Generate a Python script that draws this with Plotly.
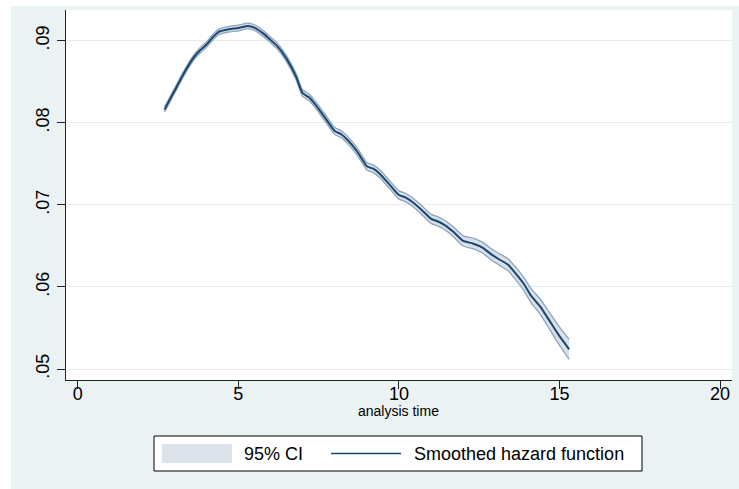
import plotly.graph_objects as go

# ---- data ----
analysis_time = [2.7, 3.0, 3.3, 3.6, 3.8, 4.0, 4.2, 4.4, 4.7, 5.0, 5.3, 5.5, 5.8, 6.0, 6.2, 6.5,
                 6.8, 7.0, 7.2, 7.4, 7.7, 8.0, 8.2, 8.4, 8.7, 9.0, 9.2, 9.4, 9.7, 10.0, 10.2,
                 10.4, 10.7, 11.0, 11.2, 11.4, 11.7, 12.0, 12.3, 12.6, 12.9, 13.1, 13.4, 13.6,
                 13.9, 14.1, 14.4, 14.7, 15.0, 15.3]
hazard = [0.0816, 0.0838, 0.0860, 0.0879, 0.0888, 0.0895, 0.0904, 0.0911, 0.0914, 0.09155,
          0.0918, 0.0916, 0.0908, 0.0901, 0.0894, 0.0878, 0.0856, 0.0836, 0.0831, 0.0822,
          0.0806, 0.0790, 0.0786, 0.0779, 0.0765, 0.0747, 0.0744, 0.0738, 0.0725, 0.0712,
          0.0709, 0.0704, 0.0694, 0.0683, 0.0680, 0.0676, 0.0667, 0.0656, 0.0653, 0.0648,
          0.0639, 0.0634, 0.0627, 0.0618, 0.0603, 0.0590, 0.0576, 0.0558, 0.0540, 0.0524]
ci_halfwidth = [0.0003, 0.0003, 0.00031, 0.00032, 0.00033, 0.00033, 0.00034, 0.00034, 0.00034,
                0.00034, 0.00034, 0.00034, 0.00035, 0.00035, 0.00036, 0.00037, 0.00038, 0.00039,
                0.0004, 0.00041, 0.00042, 0.00043, 0.00043, 0.00044, 0.00045, 0.00046, 0.00047,
                0.00048, 0.00049, 0.0005, 0.00051, 0.00052, 0.00054, 0.00056, 0.00057, 0.00058,
                0.0006, 0.00062, 0.00064, 0.00066, 0.00068, 0.0007, 0.00073, 0.00076, 0.0008,
                0.00085, 0.00093, 0.00101, 0.00111, 0.00122]
ci_lower = [h - w for h, w in zip(hazard, ci_halfwidth)]
ci_upper = [h + w for h, w in zip(hazard, ci_halfwidth)]

y_tick_values = [0.05, 0.06, 0.07, 0.08, 0.09]
y_tick_labels = [".05", ".06", ".07", ".08", ".09"]
x_tick_values = [0, 5, 10, 15, 20]
x_tick_labels = ["0", "5", "10", "15", "20"]
legend_labels = ["95% CI", "Smoothed hazard function"]
x_title = "analysis time"

# ---- layout geometry ----
W, H = 739, 489
ML, MR, MT, MB = 66, 7, 10, 109
PW, PH = W - ML - MR, H - MT - MB


def px(x):
    return (x - ML) / PW


def py(y):
    return (H - MB - y) / PH


LINE_COL = "#1a476f"
BAND_FILL = "#d9e0e9"
BAND_EDGE = "#8fa4bc"
LEG_FILL = "#dce2ea"
BG = "#eaf2f3"
GRID = "#e4eced"
FONT = "Liberation Sans, Arial, sans-serif"

fig = go.Figure()
fig.add_trace(go.Scatter(x=analysis_time, y=ci_upper, mode="lines",
                         line=dict(color=BAND_EDGE, width=1.3, shape="spline", smoothing=0.5),
                         showlegend=False, hoverinfo="skip"))
fig.add_trace(go.Scatter(x=analysis_time, y=ci_lower, mode="lines", fill="tonexty",
                         fillcolor=BAND_FILL,
                         line=dict(color=BAND_EDGE, width=1.3, shape="spline", smoothing=0.5),
                         showlegend=False, hoverinfo="skip"))
fig.add_trace(go.Scatter(x=analysis_time, y=hazard, mode="lines",
                         line=dict(color=LINE_COL, width=2, shape="spline", smoothing=0.5),
                         showlegend=False))

shapes = [
    # white outer strips (left and top)
    dict(type="rect", xref="paper", yref="paper", x0=px(-5), x1=px(11), y0=py(H + 5), y1=py(-5),
         fillcolor="white", line=dict(width=0), layer="above"),
    dict(type="rect", xref="paper", yref="paper", x0=px(-5), x1=px(W + 5), y0=py(6), y1=py(-5),
         fillcolor="white", line=dict(width=0), layer="above"),
    # legend box
    dict(type="rect", xref="paper", yref="paper", x0=px(154), x1=px(642), y0=py(471), y1=py(436),
         fillcolor="white", line=dict(color="black", width=1)),
    dict(type="rect", xref="paper", yref="paper", x0=px(162), x1=px(232), y0=py(463), y1=py(444),
         fillcolor=LEG_FILL, line=dict(width=0)),
    dict(type="line", xref="paper", yref="paper", x0=px(331), x1=px(401), y0=py(453.5), y1=py(453.5),
         line=dict(color=LINE_COL, width=1.5)),
]

annotations = [
    dict(text=x_title, xref="paper", yref="paper", x=px(398), y=py(411), xanchor="center",
         yanchor="middle", showarrow=False, font=dict(size=14, color="black", family=FONT)),
    dict(text=legend_labels[0], xref="paper", yref="paper", x=px(242), y=py(454), xanchor="left",
         yanchor="middle", showarrow=False, font=dict(size=18, color="black", family=FONT)),
    dict(text=legend_labels[1], xref="paper", yref="paper", x=px(412), y=py(454), xanchor="left",
         yanchor="middle", showarrow=False, font=dict(size=18, color="black", family=FONT)),
]

fig.update_layout(
    width=W, height=H, autosize=False,
    margin=dict(l=ML, r=MR, t=MT, b=MB, pad=0),
    paper_bgcolor=BG, plot_bgcolor="white",
    font=dict(family=FONT, color="black"),
    shapes=shapes, annotations=annotations, showlegend=False,
)
fig.update_xaxes(range=[-0.367, 20.37], tickvals=x_tick_values, ticktext=x_tick_labels,
                 showgrid=False, zeroline=False, showline=True, linecolor="#222", linewidth=1.2,
                 ticks="outside", ticklen=8, tickwidth=1, tickcolor="#222",
                 ticklabelstandoff=-11,
                 tickfont=dict(size=18, family=FONT, color="black"))
fig.update_yaxes(range=[0.04866, 0.09374], tickvals=y_tick_values, ticktext=y_tick_labels,
                 showgrid=True, gridcolor=GRID, gridwidth=1, zeroline=False, showline=True,
                 linecolor="#222", linewidth=1.2, ticks="outside", ticklen=8, tickwidth=1,
                 tickcolor="#222", tickangle=-90, ticklabelstandoff=1,
                 tickfont=dict(size=18, family=FONT, color="black"))

fig.write_html("out.html", config={"displayModeBar": False},
               post_script="document.body.style.margin='0';")
